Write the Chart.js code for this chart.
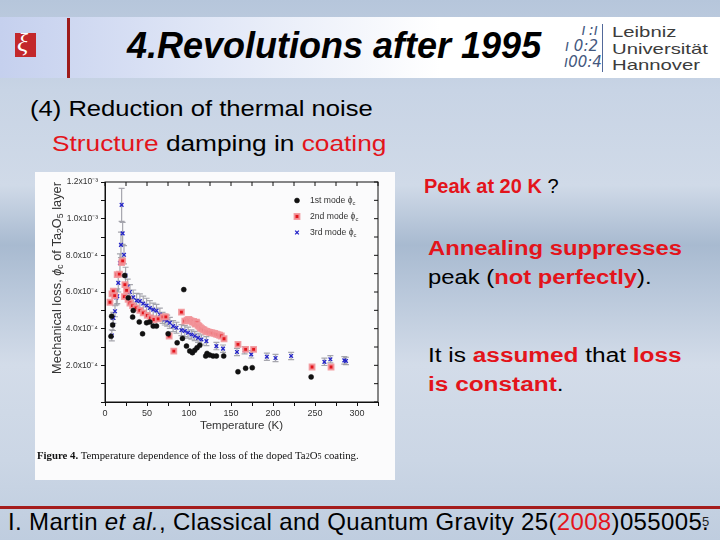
<!DOCTYPE html>
<html>
<head>
<meta charset="utf-8">
<script src="https://cdn.jsdelivr.net/npm/chart.js@4.4.0/dist/chart.umd.min.js"></script>
<style>
html,body{margin:0;padding:0;}
body{width:720px;height:540px;overflow:hidden;position:relative;font-family:"Liberation Sans",Arial,sans-serif;
  background:linear-gradient(180deg,#b6c6db 0px,#c8d4e5 90px,#d0dae8 185px,#a8bad0 245px,#b8c7da 290px,#d3dce9 365px,#cbd6e5 460px,#bfcddf 540px);}
.abs{position:absolute;white-space:nowrap;}
.red{color:#e3141b;font-weight:bold;}
.wide{transform-origin:0 0;}
#header{left:0;top:17px;width:720px;height:61px;background:linear-gradient(90deg,#c5d0ee 0px,#e2e8f7 220px,#ffffff 440px,#ffffff 720px);}
#panel{left:35px;top:172px;width:360px;height:308px;background:#fbfbfc;}
</style>
</head>
<body>
<div id="header" class="abs"></div>
<div class="abs" style="left:15px;top:33px;width:21px;height:24px;background:#c3282b;"></div>
<div class="abs" style="left:17px;top:28px;font:italic 26px 'Liberation Serif',serif;color:#fff;">ξ</div>
<div class="abs" style="left:67px;top:18px;width:3px;height:60px;background:#9e1b1b;"></div>
<div class="abs" style="left:127px;top:25px;font:italic bold 36px 'Liberation Sans',Arial,sans-serif;color:#000;">4.Revolutions after 1995</div>
<div class="abs" style="left:564px;top:22px;font:italic 15px 'DejaVu Sans',sans-serif;color:#44587e;line-height:16px;text-align:right;width:34px;">ı&thinsp;:ı<br>ı 0:2<br>ı00:4</div>
<div class="abs" style="left:602px;top:24px;width:1px;height:48px;background:#52699a;"></div>
<div class="abs wide" style="left:612px;top:24px;font:14.5px 'Liberation Sans',Arial,sans-serif;color:#3c3c3c;line-height:16.5px;transform:scaleX(1.4);">Leibniz<br>Universität<br>Hannover</div>

<div class="abs wide" style="left:30px;top:96px;font:22px 'Liberation Sans',Arial,sans-serif;color:#000;transform:scaleX(1.163);">(4) Reduction of thermal noise</div>
<div class="abs wide" style="left:52px;top:131px;font:22px 'Liberation Sans',Arial,sans-serif;color:#000;transform:scaleX(1.194);"><span style="color:#e3141b">Structure</span> damping in <span style="color:#e3141b">coating</span></div>

<div class="abs" style="left:424px;top:175px;font:20px 'Liberation Sans',Arial,sans-serif;color:#000;"><span class="red">Peak at 20 K</span> ?</div>
<div class="abs wide" style="left:428px;top:234px;font:20px 'Liberation Sans',Arial,sans-serif;color:#000;line-height:29px;transform:scaleX(1.19);"><span class="red">Annealing suppresses</span><br>peak (<span class="red">not perfectly</span>).</div>
<div class="abs wide" style="left:428px;top:341px;font:20px 'Liberation Sans',Arial,sans-serif;color:#000;line-height:29px;transform:scaleX(1.22);">It is <span class="red">assumed</span> that <span class="red">loss</span><br><span class="red">is constant</span>.</div>

<div id="panel" class="abs">
  <canvas id="chart" width="360" height="308"></canvas>
  <div class="abs" style="left:2px;top:277px;font:10.8px 'Liberation Serif',serif;color:#111;"><b>Figure 4.</b> Temperature dependence of the loss of the doped Ta<span style="font-size:8px">2</span>O<span style="font-size:8px">5</span> coating.</div>
</div>

<div class="abs" style="left:0;top:506px;width:720px;height:3px;background:#a51c1c;"></div>
<div class="abs" style="left:8px;top:508px;font:24px 'Liberation Sans',Arial,sans-serif;color:#000;letter-spacing:0.35px;">I. Martin <i>et al.</i>, Classical and Quantum Gravity 25(<span style="color:#e3141b">2008</span>)055005.</div>
<div class="abs" style="left:702px;top:514px;font:13px 'Liberation Sans',Arial,sans-serif;color:#222;">5</div>

<script>
// loss values are in units of 1e-4
const mode1T = [7.1, 7.9, 9.1, 23.5, 27.7, 32.9, 33.6, 40.8, 44.7, 49.5, 53.4, 57.4, 61.3, 75.2, 85.9, 92.2, 93.8, 97, 100.9, 104.1, 106.8, 109.6, 112.8, 119.9, 121.5, 124.7, 128.6, 132.6, 141.3, 158.3, 167.4, 175.3, 245.4];
const mode1Loss = [3.58, 4.68, 4.2, 6.9, 5.68, 4.63, 4.99, 4.37, 3.72, 4.32, 4.37, 4.14, 4.14, 3.72, 3.23, 3.47, 6.13, 3.05, 2.78, 2.69, 2.82, 2.96, 3.09, 2.51, 2.65, 2.56, 2.51, 2.51, 2.51, 1.65, 1.84, 1.87, 1.37];

const mode2T = [5.9, 8.3, 9.9, 11.5, 14.5, 17, 19.8, 21, 23, 23.7, 25.7, 27.5, 29.7, 32.8, 36.8, 41.5, 45.5, 50.3, 54.2, 58.2, 63.3, 69.2, 72.4, 76.4, 81.9, 91, 95, 97.7, 99.5, 100.9, 102.5, 104.1, 105.5, 106.8, 107.5, 108.8, 109.5, 110.8, 112, 113.6, 115, 116.7, 118, 119.9, 121, 122.7, 124.5, 126.6, 128.5, 130.6, 132.5, 134.5, 136.5, 138.5, 141.7, 158.3, 167.4, 176.9, 246.5, 269.1];
const mode2Loss = [5.44, 5.9, 6.04, 5.8, 6.95, 6.97, 7.6, 7.7, 5.75, 6.4, 6.09, 5.6, 5.4, 5.26, 5.13, 5.0, 4.86, 4.72, 4.59, 4.5, 4.53, 4.64, 4.64, 3.6, 2.78, 4.9, 4.41, 4.46, 4.5, 4.46, 4.42, 4.36, 4.4, 4.32, 4.25, 4.36, 4.3, 4.18, 4.12, 4.05, 4.0, 3.96, 3.92, 3.87, 3.85, 3.83, 3.8, 3.78, 3.76, 3.74, 3.7, 3.68, 3.64, 3.6, 3.45, 3.14, 2.87, 2.87, 1.91, 1.91];

const mode3T = [8.1, 9.5, 9.9, 11.9, 13.5, 14.6, 15.8, 17.8, 19, 19.8, 21, 22.6, 24.5, 27, 29.7, 33.6, 37.6, 41.5, 45.5, 49.5, 53.4, 57.4, 61.3, 65.3, 68.5, 71.2, 74, 77.2, 81.1, 85.1, 91, 95, 98.9, 102.9, 106.8, 110.8, 114.8, 120.7, 132.6, 140.5, 157.1, 166.2, 174.1, 192.7, 203, 221.6, 261.2, 268.3, 284.9, 286.9];
const mode3Loss = [3.63, 4.2, 4.59, 4.95, 5.7, 5.77, 6.5, 7.58, 8.57, 10.75, 9.2, 8.03, 6.9, 6.3, 6.0, 5.71, 5.53, 5.5, 5.37, 5.26, 5.13, 5.04, 4.98, 4.77, 4.59, 4.5, 4.44, 4.32, 4.14, 4.05, 3.92, 3.87, 3.78, 3.68, 3.6, 3.5, 3.41, 3.32, 3.05, 2.91, 2.73, 2.82, 2.6, 2.47, 2.4, 2.51, 2.19, 2.33, 2.27, 2.24];
const mode3Err = [0.3, 0.3, 0.3, 0.3, 0.4, 0.4, 0.5, 0.5, 0.7, 0.9, 0.6, 0.5, 0.45, 0.4, 0.4, 0.4, 0.4, 0.4, 0.4, 0.4, 0.4, 0.35, 0.35, 0.35, 0.3, 0.3, 0.3, 0.3, 0.3, 0.3, 0.3, 0.3, 0.3, 0.25, 0.25, 0.25, 0.25, 0.25, 0.2, 0.2, 0.2, 0.2, 0.2, 0.2, 0.2, 0.2, 0.2, 0.2, 0.2, 0.2];

const xTickValues = [0, 50, 100, 150, 200, 250, 300];
const yTickValues = [2, 4, 6, 8, 10, 12];
const yTickText = ['2.0x10⁻⁴', '4.0x10⁻⁴', '6.0x10⁻⁴', '8.0x10⁻⁴', '1.0x10⁻³', '1.2x10⁻³'];
const modeNames = ['1st mode ϕ', '2nd mode ϕ', '3rd mode ϕ'];

const pts = (xs, ys) => xs.map((x, i) => ({x: x, y: ys[i]}));

// draws text pieces, 's' pieces as subscripts
function richText(ctx, parts, x, y, size, family){
  let cx = x;
  parts.forEach(p => {
    const sub = p[1] === 's', it = p[1] === 'i';
    const sz = sub ? size * 0.68 : size;
    ctx.font = (it ? 'italic ' : '') + sz + 'px ' + family;
    ctx.fillText(p[0], cx, sub ? y + size * 0.3 : y);
    cx += ctx.measureText(p[0]).width;
  });
  return cx - x;
}
function richWidth(ctx, parts, size, family){
  let w = 0;
  parts.forEach(p => {
    const sz = p[1] === 's' ? size * 0.68 : size;
    ctx.font = (p[1] === 'i' ? 'italic ' : '') + sz + 'px ' + family;
    w += ctx.measureText(p[0]).width;
  });
  return w;
}

const errorBars = {
  id: 'errorBars',
  beforeDatasetsDraw(chart){
    const ctx = chart.ctx, y = chart.scales.y;
    const meta = chart.getDatasetMeta(2);
    ctx.save();
    ctx.strokeStyle = 'rgba(150,150,160,0.85)';
    ctx.lineWidth = 1.2;
    meta.data.forEach((el, i) => {
      const v = mode3Loss[i], e = mode3Err[i];
      const t = y.getPixelForValue(v + e), b = y.getPixelForValue(v - e);
      ctx.beginPath();
      ctx.moveTo(el.x, t); ctx.lineTo(el.x, b);
      ctx.moveTo(el.x - 3, t); ctx.lineTo(el.x + 3, t);
      ctx.moveTo(el.x - 3, b); ctx.lineTo(el.x + 3, b);
      ctx.stroke();
    });
    ctx.restore();
  }
};

const framePlugin = {
  id: 'frame',
  afterDraw(chart){
    const ctx = chart.ctx, a = chart.chartArea, x = chart.scales.x, y = chart.scales.y;
    ctx.save();
    ctx.strokeStyle = '#111';
    ctx.lineWidth = 1;
    ctx.strokeRect(a.left, a.top, a.right - a.left, a.bottom - a.top);
    ctx.beginPath();
    x.ticks.forEach((t, i) => { const px = x.getPixelForTick(i); ctx.moveTo(px, a.top); ctx.lineTo(px, a.top + 4); });
    y.ticks.forEach((t, i) => { const py = y.getPixelForTick(i); ctx.moveTo(a.right, py); ctx.lineTo(a.right - 4, py); });
    ctx.stroke();

    // y axis title with subscripts
    const fam = "'Liberation Sans', Arial, sans-serif";
    const title = [['Mechanical loss, ', 'n'], ['ϕ', 'i'], ['c', 's'], [' of Ta', 'n'], ['2', 's'], ['O', 'n'], ['5', 's'], [' layer', 'n']];
    ctx.fillStyle = '#333';
    ctx.textBaseline = 'middle';
    ctx.translate(22, (a.top + a.bottom) / 2 - 14);
    ctx.rotate(-Math.PI / 2);
    const w = richWidth(ctx, title, 12.8, fam);
    richText(ctx, title, -w / 2, 0, 12.8, fam);
    ctx.restore();

    // legend
    ctx.save();
    ctx.textBaseline = 'middle';
    chart.data.datasets.forEach((ds, i) => {
      const ly = a.top + 18.5 + i * 16, lx = a.right - 81;
      ctx.fillStyle = ds.backgroundColor; ctx.strokeStyle = ds.borderColor; ctx.lineWidth = ds.borderWidth;
      Chart.helpers.drawPoint(ctx, {pointStyle: ds.pointStyle, radius: ds.pointRadius, borderWidth: ds.borderWidth, rotation: 0}, lx, ly);
      ctx.fillStyle = '#333';
      richText(ctx, [[modeNames[i], 'n'], ['c', 's']], lx + 13, ly, 8.6, fam);
    });
    ctx.restore();
  }
};

new Chart(document.getElementById('chart').getContext('2d'), {
  type: 'scatter',
  data: {
    datasets: [
      {label: modeNames[0], data: pts(mode1T, mode1Loss), pointStyle: 'circle', pointRadius: 2.5, borderWidth: 0.5, backgroundColor: '#111', borderColor: '#111'},
      {label: modeNames[1], data: pts(mode2T, mode2Loss), pointStyle: 'rect', pointRadius: 3.4, borderWidth: 2, backgroundColor: '#e3141b', borderColor: 'rgba(242,150,155,0.9)'},
      {label: modeNames[2], data: pts(mode3T, mode3Loss), pointStyle: 'crossRot', pointRadius: 2.6, borderWidth: 1.3, backgroundColor: '#2424c8', borderColor: '#2424c8'}
    ]
  },
  options: {
    responsive: false,
    animation: false,
    layout: {padding: {top: 10, right: 17, bottom: 47, left: 0}},
    plugins: {legend: {display: false}, tooltip: {enabled: false}},
    scales: {
      x: {
        type: 'linear', min: 0, max: 325,
        afterFit: s => { s.height = 31; },
        ticks: {stepSize: 25, autoSkip: false, maxRotation: 0, padding: 2, color: '#333', font: {size: 9, family: "'Liberation Sans', Arial"},
          callback: v => xTickValues.includes(v) ? String(v) : ''},
        grid: {drawOnChartArea: false, tickLength: 4, color: '#111'},
        border: {display: true, color: '#111'},
        title: {display: true, text: 'Temperature (K)', color: '#333', padding: {top: 1, bottom: 0}, font: {size: 11.5, family: "'Liberation Sans', Arial"}}
      },
      y: {
        type: 'linear', min: 0, max: 12,
        afterFit: s => { s.width = 70; },
        ticks: {stepSize: 1, autoSkip: false, padding: 3, color: '#333', font: {size: 8.5, family: "'Liberation Sans', Arial"},
          callback: v => { const k = yTickValues.indexOf(Math.round(v)); return k >= 0 ? yTickText[k] : ''; }},
        grid: {drawOnChartArea: false, tickLength: 4, color: '#111'},
        border: {display: true, color: '#111'}
      }
    }
  },
  plugins: [errorBars, framePlugin]
});
</script>
</body>
</html>
